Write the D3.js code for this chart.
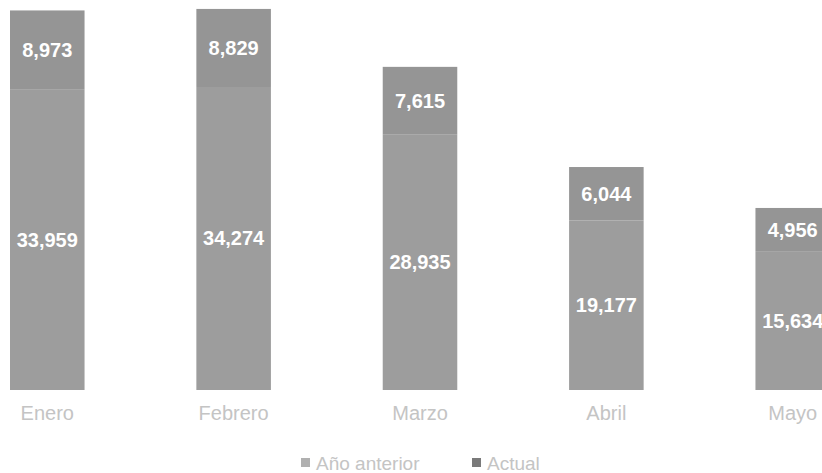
<!DOCTYPE html>
<html>
<head>
<meta charset="utf-8">
<script src="https://cdn.jsdelivr.net/npm/d3@7"></script>
<style>
  html, body { margin: 0; padding: 0; background: #fff; }
  svg { display: block; font-family: "Liberation Sans", Arial, sans-serif; }
</style>
</head>
<body>
<svg id="chart" width="822" height="473"></svg>
<script>
// Monthly totals, stacked: previous year at the bottom, remainder on top
const months = ["Enero", "Febrero", "Marzo", "Abril", "Mayo"];
const seriesNames = ["Año anterior", "Actual"];
const anterior = [33959, 34274, 28935, 19177, 15634];
const actual = [8973, 8829, 7615, 6044, 4956];
const seriesColors = ["#9d9d9d", "#959595"];

const svg = d3.select("#chart");
const baseY = 390;

const x = d3.scaleBand()
  .domain(months)
  .range([10, 830])
  .paddingInner(0.6)
  .paddingOuter(0);

const y = d3.scaleLinear()
  .domain([0, 44000])
  .range([baseY, 1]);

const rows = months.map((m, i) => ({ month: m, "Año anterior": anterior[i], "Actual": actual[i] }));
const stacked = d3.stack().keys(seriesNames)(rows);

const fmt = d3.format(",");

const layers = svg.append("g").selectAll("g")
  .data(stacked)
  .join("g")
  .attr("fill", (d, i) => seriesColors[i]);

layers.selectAll("rect")
  .data(d => d)
  .join("rect")
  .attr("x", d => x(d.data.month))
  .attr("width", x.bandwidth())
  .attr("y", d => y(d[1]))
  .attr("height", d => y(d[0]) - y(d[1]));

// Value labels centred in each segment
layers.selectAll("text")
  .data(d => d.map(v => ({ v, key: d.key })))
  .join("text")
  .attr("x", d => x(d.v.data.month) + x.bandwidth() / 2)
  .attr("y", d => (y(d.v[0]) + y(d.v[1])) / 2)
  .attr("dy", "0.35em")
  .attr("text-anchor", "middle")
  .attr("fill", "#fff")
  .attr("font-size", 20)
  .attr("font-weight", "bold")
  .text(d => fmt(d.v.data[d.key]));

// Category axis
const xAxis = svg.append("g")
  .attr("transform", `translate(0,${baseY})`)
  .call(d3.axisBottom(x).tickSize(0).tickPadding(16));
xAxis.select(".domain").remove();
xAxis.selectAll("text")
  .attr("fill", "#c4c4c4")
  .attr("font-size", 20)
  .style("font-family", "'Liberation Sans', Arial, sans-serif");

// Legend
const legendItems = [
  { name: seriesNames[0], color: "#b0b0b0", x: 301 },
  { name: seriesNames[1], color: "#7a7a7a", x: 472 }
];
const legend = svg.append("g").attr("transform", "translate(0,463)");
legendItems.forEach(it => {
  legend.append("rect")
    .attr("x", it.x).attr("y", -5)
    .attr("width", 9).attr("height", 9)
    .attr("fill", it.color);
  legend.append("text")
    .attr("x", it.x + 15).attr("y", 0)
    .attr("dy", "0.35em")
    .attr("fill", "#c4c4c4")
    .attr("font-size", 19)
    .text(it.name);
});
</script>
</body>
</html>
